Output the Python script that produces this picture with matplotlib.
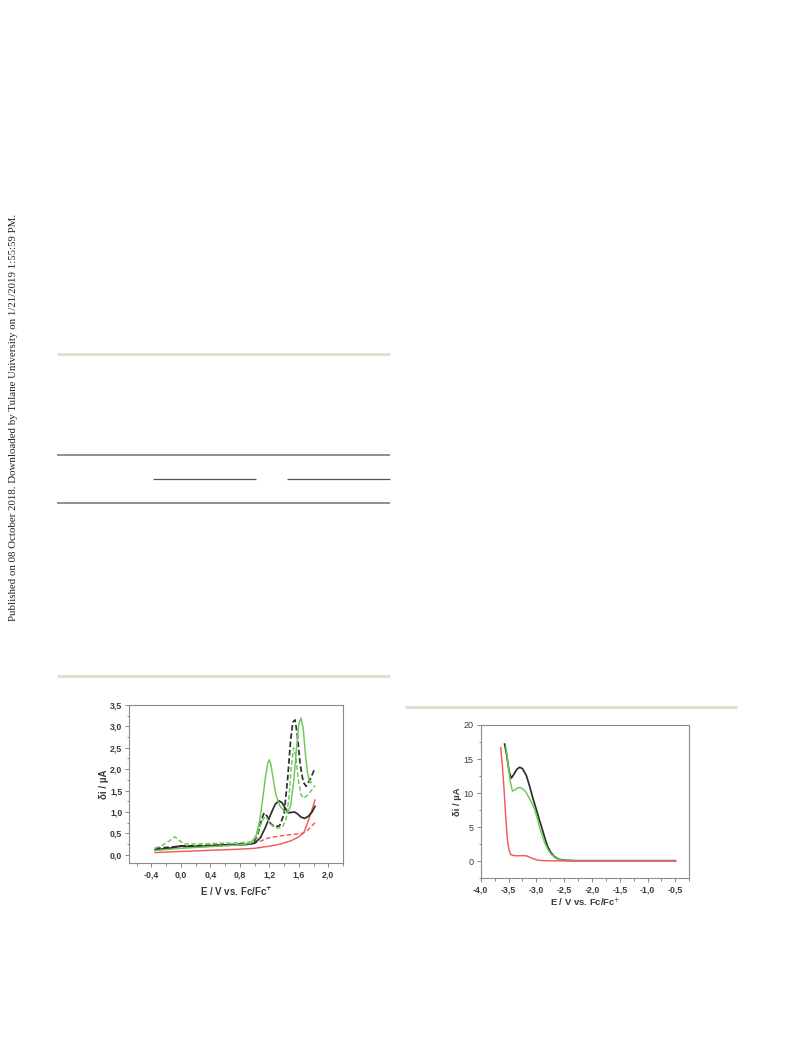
import matplotlib
matplotlib.use("Agg")
import matplotlib.pyplot as plt
from matplotlib.lines import Line2D
from matplotlib.ticker import MultipleLocator, FuncFormatter

# ---------------- oxidation scans (E / V vs Fc/Fc+, di / uA) ----------------
ox_green_E = [-0.35, -0.2, 0.0, 0.2, 0.4, 0.6, 0.8, 0.95, 1.02, 1.07, 1.11, 1.15, 1.18, 1.20,
              1.22, 1.25, 1.29, 1.34, 1.40, 1.45, 1.49, 1.53, 1.57, 1.60, 1.63, 1.66, 1.69,
              1.72, 1.75, 1.77]
ox_green_i = [0.10, 0.12, 0.15, 0.17, 0.19, 0.21, 0.23, 0.27, 0.45, 0.80, 1.30, 1.85, 2.15, 2.22,
              2.12, 1.80, 1.40, 1.15, 1.02, 0.98, 1.15, 1.70, 2.50, 3.05, 3.20, 2.95, 2.35,
              1.90, 1.68, 1.70]

ox_green_dash_E = [-0.35, -0.25, -0.15, -0.08, -0.02, 0.05, 0.2, 0.4, 0.6, 0.8, 0.95, 1.02, 1.07,
                   1.12, 1.16, 1.20, 1.26, 1.32, 1.38, 1.43, 1.47, 1.50, 1.53, 1.56, 1.59, 1.63,
                   1.67, 1.72, 1.78, 1.82]
ox_green_dash_i = [0.15, 0.22, 0.33, 0.42, 0.33, 0.25, 0.25, 0.26, 0.27, 0.28, 0.30, 0.40, 0.65,
                   0.85, 0.88, 0.75, 0.65, 0.62, 0.65, 0.85, 1.40, 2.10, 2.50, 2.30, 1.80, 1.40,
                   1.32, 1.40, 1.52, 1.62]

ox_black_E = [-0.35, -0.2, -0.1, 0.0, 0.1, 0.3, 0.5, 0.7, 0.9, 1.0, 1.08, 1.15, 1.22, 1.28, 1.33,
              1.37, 1.42, 1.46, 1.50, 1.54, 1.58, 1.63, 1.68, 1.73, 1.78, 1.82]
ox_black_i = [0.12, 0.14, 0.17, 0.21, 0.19, 0.20, 0.22, 0.23, 0.24, 0.27, 0.40, 0.65, 0.95, 1.18,
              1.26, 1.22, 1.08, 0.98, 0.99, 1.00, 0.96, 0.88, 0.85, 0.90, 1.00, 1.13]

ox_black_dash_E = [-0.35, -0.2, 0.0, 0.2, 0.4, 0.6, 0.8, 0.98, 1.04, 1.09, 1.13, 1.17, 1.22, 1.28,
                   1.34, 1.40, 1.45, 1.49, 1.52, 1.55, 1.58, 1.62, 1.66, 1.70, 1.75, 1.82]
ox_black_dash_i = [0.15, 0.17, 0.20, 0.21, 0.22, 0.23, 0.25, 0.27, 0.45, 0.80, 0.98, 0.90, 0.72,
                   0.65, 0.68, 0.95, 1.80, 2.70, 3.10, 3.15, 2.80, 2.10, 1.70, 1.60, 1.75, 2.02]

ox_red_E = [-0.35, -0.1, 0.2, 0.5, 0.8, 1.0, 1.2, 1.35, 1.5, 1.6, 1.67, 1.72, 1.77, 1.82]
ox_red_i = [0.05, 0.07, 0.09, 0.11, 0.13, 0.15, 0.20, 0.25, 0.33, 0.42, 0.52, 0.75, 1.00, 1.28]

ox_red_dash_E = [-0.35, -0.1, 0.2, 0.5, 0.8, 1.0, 1.1, 1.2, 1.35, 1.5, 1.65, 1.72, 1.78, 1.82]
ox_red_dash_i = [0.12, 0.15, 0.18, 0.20, 0.23, 0.27, 0.33, 0.40, 0.44, 0.47, 0.50, 0.57, 0.68, 0.75]

# ---------------- reduction scans ----------------
red_black_E = [-3.57, -3.53, -3.49, -3.45, -3.40, -3.35, -3.30, -3.25, -3.18, -3.12, -3.06,
               -3.00, -2.95, -2.90, -2.85, -2.80, -2.74, -2.68, -2.60, -2.50, -2.30, -1.50, -0.50]
red_black_i = [17.2, 15.5, 13.2, 12.2, 12.8, 13.5, 13.8, 13.6, 12.6, 11.0, 9.2,
               7.6, 6.2, 4.9, 3.5, 2.2, 1.3, 0.7, 0.3, 0.15, 0.08, 0.08, 0.08]

red_green_E = [-3.55, -3.51, -3.47, -3.43, -3.38, -3.33, -3.29, -3.24, -3.19, -3.15, -3.09,
               -3.03, -2.98, -2.94, -2.89, -2.85, -2.79, -2.73, -2.66, -2.59, -2.50, -2.30,
               -1.50, -0.50]
red_green_i = [16.9, 14.5, 11.8, 10.3, 10.5, 10.8, 10.8, 10.6, 10.2, 9.6, 8.7,
               7.6, 6.2, 4.9, 3.7, 2.7, 1.7, 1.0, 0.5, 0.25, 0.12, 0.08,
               0.08, 0.08]

red_red_E = [-3.64, -3.61, -3.58, -3.55, -3.52, -3.49, -3.46, -3.42, -3.35, -3.25, -3.18,
             -3.12, -3.05, -2.98, -2.90, -2.70, -2.00, -1.00, -0.50]
red_red_i = [16.7, 14.0, 10.5, 6.5, 3.2, 1.6, 1.0, 0.85, 0.80, 0.82, 0.80,
             0.60, 0.35, 0.18, 0.10, 0.06, 0.06, 0.06, 0.06]

# tick values
ox_xticks = [-0.4, 0.0, 0.4, 0.8, 1.2, 1.6, 2.0]
ox_yticks = [0.0, 0.5, 1.0, 1.5, 2.0, 2.5, 3.0, 3.5]
red_xticks = [-4.0, -3.5, -3.0, -2.5, -2.0, -1.5, -1.0, -0.5]
red_yticks = [0, 5, 10, 15, 20]

GREEN = "#6cc85a"
BLACK = "#2e2e2e"
RED = "#f25a5a"
SPINE = "#8a8a8a"
TXT = "#3a3a3a"
DASH = (0, (3.2, 1.6))

plt.rcParams["font.family"] = ["Liberation Sans", "DejaVu Sans"]

W, H = 793, 1039
fig = plt.figure(figsize=(W / 100, H / 100), dpi=100)


def px_axes(x0, y0, x1, y1):
    return fig.add_axes([x0 / W, 1 - y1 / H, (x1 - x0) / W, (y1 - y0) / H])


def hline(x0, x1, y, color, lw):
    fig.add_artist(Line2D([x0 / W, x1 / W], [1 - y / H, 1 - y / H],
                          transform=fig.transFigure, color=color, lw=lw,
                          solid_capstyle="butt"))


def comma(fmt):
    return FuncFormatter(lambda v, p: (fmt % v).replace(".", ","))


def style(ax):
    for s in ax.spines.values():
        s.set_color(SPINE)
        s.set_linewidth(0.8)
    ax.tick_params(which="both", direction="out", color=SPINE, width=0.7,
                   top=False, right=False, labelcolor=TXT, pad=2)
    ax.tick_params(which="major", length=3)
    ax.tick_params(which="minor", length=1.8)


# ---- page decorations ----
fig.text(14 / W, 1 - 417 / H,
         "Published on 08 October 2018. Downloaded by Tulane University on 1/21/2019 1:55:59 PM.",
         rotation=90, ha="center", va="center", fontsize=7.8,
         family="Liberation Serif", color="#222222")

hline(57, 390, 354, "#e3dfcf", 2.2)
hline(57, 390, 455, "#8f8f8f", 1.4)
hline(153, 256, 479.5, "#555555", 0.9)
hline(287, 390, 479.5, "#555555", 0.9)
hline(57, 390, 503, "#8f8f8f", 1.4)
hline(57, 390, 675.5, "#e3dfcf", 2.2)
hline(405, 737, 707.3, "#e3dfcf", 2.2)

# ---- oxidation panel ----
ax1 = px_axes(129.3, 705, 343, 863.3)
lw = 1.05
ax1.plot(ox_red_E, ox_red_i, color=RED, lw=lw)
ax1.plot(ox_red_dash_E, ox_red_dash_i, color=RED, lw=lw, ls=DASH)
ax1.plot(ox_black_E, ox_black_i, color=BLACK, lw=lw + 0.2)
ax1.plot(ox_black_dash_E, ox_black_dash_i, color=BLACK, lw=lw + 0.2, ls=DASH)
ax1.plot(ox_green_dash_E, ox_green_dash_i, color=GREEN, lw=lw, ls=DASH)
ax1.plot(ox_green_E, ox_green_i, color=GREEN, lw=lw)
ax1.set_xlim(-0.7, 2.2)
ax1.set_ylim(-0.2, 3.5)
ax1.set_xticks(ox_xticks)
ax1.set_yticks(ox_yticks)
ax1.xaxis.set_minor_locator(MultipleLocator(0.2))
ax1.yaxis.set_minor_locator(MultipleLocator(0.25))
ax1.xaxis.set_major_formatter(comma("%.1f"))
ax1.yaxis.set_major_formatter(comma("%.1f"))
style(ax1)
for t in ax1.get_xticklabels() + ax1.get_yticklabels():
    t.set_fontsize(6.3)
    t.set_fontweight("bold")
ax1.set_xlabel("E / V vs. Fc/Fc$^{\\mathbf{+}}$", fontsize=7, fontweight="bold",
               color=TXT, labelpad=4)
ax1.set_ylabel("δi / µA", fontsize=7, fontweight="bold", color=TXT, labelpad=1)

# ---- reduction panel ----
ax2 = px_axes(480.7, 725, 689.3, 878.3)
ax2.plot(red_black_E, red_black_i, color=BLACK, lw=1.25)
ax2.plot(red_green_E, red_green_i, color=GREEN, lw=1.05)
ax2.plot(red_red_E, red_red_i, color=RED, lw=1.05)
ax2.set_xlim(-4.0, -0.25)
ax2.set_ylim(-2.5, 20)
ax2.set_xticks(red_xticks)
ax2.set_yticks(red_yticks)
ax2.xaxis.set_minor_locator(MultipleLocator(0.25))
ax2.yaxis.set_minor_locator(MultipleLocator(2.5))
ax2.xaxis.set_major_formatter(comma("%.1f"))
ax2.yaxis.set_major_formatter(comma("%d"))
style(ax2)
for t in ax2.get_xticklabels():
    t.set_fontsize(6.3)
    t.set_fontweight("bold")
for t in ax2.get_yticklabels():
    t.set_fontsize(6.5)
ax2.set_xlabel("E / V vs. Fc/Fc$^{+}$", fontsize=6.8, fontweight="bold",
               color=TXT, labelpad=2)
ax2.set_ylabel("δi / µA", fontsize=6.8, fontweight="bold", color=TXT, labelpad=1)

fig.savefig("out.png", dpi=100, facecolor="white")
